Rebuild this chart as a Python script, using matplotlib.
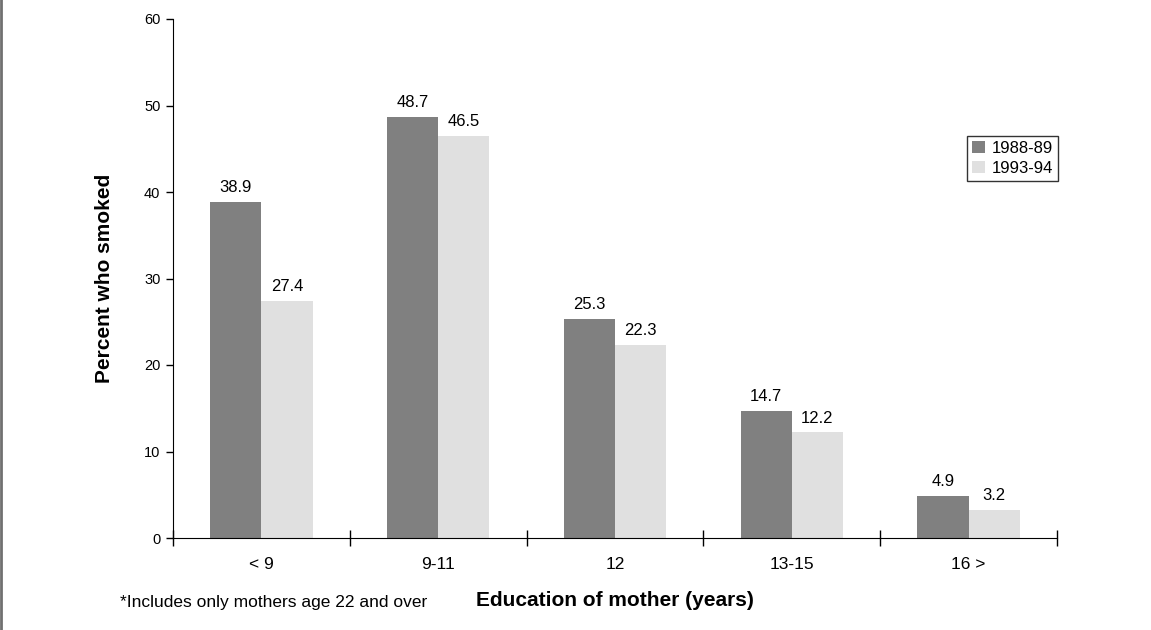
import numpy as np
import matplotlib
matplotlib.use("Agg")
import matplotlib.pyplot as plt
from matplotlib.lines import Line2D

plt.rcParams['font.family'] = ['Liberation Sans', 'DejaVu Sans']

categories = ["< 9", "9-11", "12", "13-15", "16 >"]
series_names = ["1988-89", "1993-94"]
vals_8889 = [38.9, 48.7, 25.3, 14.7, 4.9]
vals_9394 = [27.4, 46.5, 22.3, 12.2, 3.2]
colors = ["#808080", "#e0e0e0"]

fig = plt.figure(figsize=(11.51, 6.30), dpi=100)
ax = fig.add_axes([173/1151, 1 - 538/630, (1057 - 173)/1151, (538 - 19)/630])

x = np.arange(len(categories))
w = 0.29
b1 = ax.bar(x - w/2, vals_8889, w, color=colors[0], label=series_names[0])
b2 = ax.bar(x + w/2, vals_9394, w, color=colors[1], label=series_names[1])

for bars, vals in [(b1, vals_8889), (b2, vals_9394)]:
    for r, v in zip(bars, vals):
        ax.annotate(f"{v:.1f}", (r.get_x() + r.get_width()/2, v),
                    xytext=(0, 5), textcoords="offset points",
                    ha="center", va="bottom", fontsize=12)

ax.set_xlim(-0.5, len(categories) - 0.5)
ax.set_ylim(0, 60)
ax.set_yticks(range(0, 61, 10))
ax.tick_params(axis='y', direction='out', length=5, width=1, labelsize=10.5, pad=4)

# category ticks at boundaries, crossing the axis
ax.set_xticks(np.arange(-0.5, len(categories), 1.0))
ax.set_xticklabels([])
ax.tick_params(axis='x', direction='inout', length=12, width=1)
ax.set_xticks(x, minor=True)
ax.set_xticklabels(categories, minor=True, fontsize=12.5)
ax.tick_params(axis='x', which='minor', length=0, pad=13.5)

for s in ['top', 'right']:
    ax.spines[s].set_visible(False)

ax.set_ylabel("Percent who smoked", fontsize=15, fontweight='bold', labelpad=22)
ax.set_xlabel("Education of mother (years)", fontsize=15, fontweight='bold', labelpad=14)

fig.text(120/1151, 1 - 602/630, "*Includes only mothers age 22 and over",
         fontsize=12.5, ha='left', va='center')

leg = ax.legend(loc='lower right', bbox_to_anchor=(1058/1151, 1 - 181/630),
                bbox_transform=fig.transFigure, fontsize=12, frameon=True,
                fancybox=False, edgecolor='black', handlelength=0.75,
                handleheight=0.75, handletextpad=0.4, labelspacing=0.3,
                borderpad=0.3, borderaxespad=0)
leg.get_frame().set_linewidth(1)

fig.add_artist(Line2D([1/1151, 1/1151], [0, 1], transform=fig.transFigure,
                      color='#707070', linewidth=2))

fig.savefig("out.png", dpi=100)
